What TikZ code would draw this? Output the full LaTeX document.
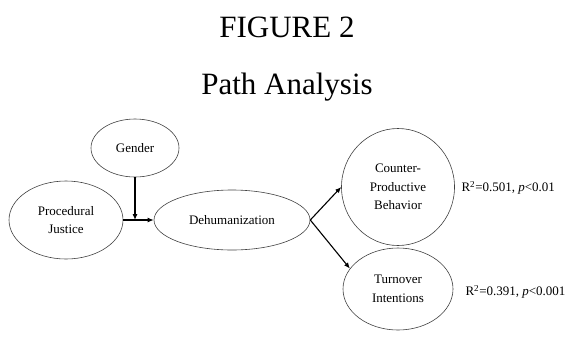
\documentclass[tikz,border=0pt]{standalone}
\usepackage{fontspec}
\setmainfont{Liberation Serif}
\usetikzlibrary{shapes.geometric,arrows.meta}
\begin{document}
\begin{tikzpicture}[x=1pt,y=-1pt,
  var/.style={ellipse,draw=black!75,line width=0.6pt,inner sep=0pt,align=center,
    font=\fontsize{13}{18.5}\selectfont},
  path/.style={line width=1.1pt,-{Latex[length=6pt,width=5pt]}},
  title/.style={anchor=base,font=\fontsize{31}{37}\selectfont},
  stat/.style={anchor=west,font=\fontsize{13}{16}\selectfont}]
\useasboundingbox (0,0) rectangle (573,338);
\node[title] (t1) at (287,37) {FIGURE 2};
\node[title] (t2) at (287,94) {Path Analysis};
\node[var,minimum width=88pt,minimum height=58pt] (G) at (135,148) {Gender};
\node[var,minimum width=114pt,minimum height=78pt] (PJ) at (66,220) {Procedural\\Justice};
\node[var,minimum width=156pt,minimum height=60pt] (D) at (232,220) {Dehumanization};
\node[var,minimum width=113pt,minimum height=117pt] (C) at (398,187) {Counter-\\Productive\\Behavior};
\node[var,minimum width=110pt,minimum height=82pt] (T) at (398,289) {Turnover\\Intentions};
\coordinate (j) at (135,220);
\draw[path] (PJ.east) -- (D.west);
\draw[path] (G.south) -- (j);
\draw[path] (D.east) -- (C.west);
\draw[path] (D.east) -- (T.157);
\node[stat] (r1) at (458,188) {R\textsuperscript{2}=0.501, \textit{p}<0.01};
\node[stat] (r2) at (462,292) {R\textsuperscript{2}=0.391, \textit{p}<0.001};
\end{tikzpicture}
\end{document}
